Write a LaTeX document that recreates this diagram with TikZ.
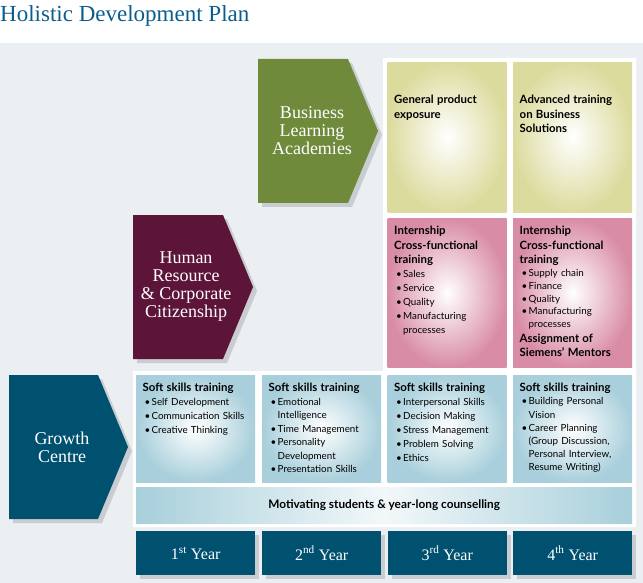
\documentclass[tikz,border=0pt]{standalone}
\usepackage{fontspec}
\setmainfont{Liberation Serif}
\setsansfont{Lato}
\usepackage{tikz}
\usetikzlibrary{positioning, shadows, calc}

\definecolor{titleblue}{HTML}{0B5E8C}
\definecolor{bggray}{HTML}{ECEFF2}
\definecolor{shadowgray}{HTML}{C9CDD1}
\definecolor{olivegreen}{HTML}{6F8A3A}
\definecolor{hrmaroon}{HTML}{5C1538}
\definecolor{petrol}{HTML}{00506F}
\definecolor{cellyellow}{HTML}{DCDB9E}
\definecolor{cellpink}{HTML}{D98CA6}
\definecolor{cellblue}{HTML}{A8CFDB}

% heading and bullet lines inside the cells
\newcommand{\hd}[1]{\par\noindent{\bfseries\fontsize{11.4}{14.5}\selectfont #1\par}}
\newcommand{\bul}[1]{\par\noindent\hangindent=9pt\hangafter=1\makebox[9pt][l]{\hspace{2pt}\textbullet}#1\par}

\tikzset{
  title/.style={anchor=base west, inner sep=0pt, text=titleblue, font=\fontsize{23}{26}\selectfont},
  chevshadow/.style={drop shadow={shadow xshift=4pt, shadow yshift=-4pt, fill=shadowgray, opacity=1}},
  chevtext/.style={text=white, align=center, font=\fontsize{18}{18}\selectfont},
  cell/.style={rectangle, anchor=north west, minimum width=119pt, minimum height=#1, inner sep=0pt},
  ycell/.style={cell=150pt, inner color=white, outer color=cellyellow},
  pcell/.style={cell=149pt, inner color=white, outer color=cellpink},
  bcell/.style={cell=107pt, inner color=white, outer color=cellblue},
  celltext/.style={anchor=north west, inner sep=0pt, text width=114pt, align=left, font=\sffamily\fontsize{9.8}{14}\selectfont},
  bar/.style={rectangle, anchor=north west, minimum width=496pt, minimum height=36pt, inner sep=0pt,
    left color=cellblue, right color=cellblue, middle color=white!85!cellblue, font=\sffamily\bfseries\fontsize{11.8}{13}\selectfont},
  yearbox/.style={rectangle, anchor=north west, minimum width=119pt, minimum height=44pt, inner sep=0pt, fill=petrol, text=white,
    font=\fontsize{16}{18}\selectfont, chevshadow}
}

\begin{document}
\begin{tikzpicture}[x=1pt, y=-1pt]
  \useasboundingbox (0,0) rectangle (643,583);
  \fill[bggray] (0,43) rectangle (643,583);
  \fill[white] (383,58) -- (636,58) -- (636,527) -- (133,527) -- (133,371) -- (383,371) -- cycle;

  \node[title] (title) at (0,22) {Holistic Development Plan};

  % Pfeile links
  \fill[olivegreen, chevshadow] (258,59) -- (348,59) -- (378,131) -- (348,203) -- (258,203) -- cycle;
  \node[chevtext] (bla) at (312,131) {Business\\Learning\\Academies};
  \fill[hrmaroon, chevshadow] (133,215) -- (223,215) -- (253,287) -- (223,359) -- (133,359) -- cycle;
  \node[chevtext] (hrc) at (186,287) {Human\\Resource\\\& Corporate\\Citizenship};
  \fill[petrol, chevshadow] (9,375) -- (98,375) -- (128,447) -- (98,519) -- (9,519) -- cycle;
  \node[chevtext] (gro) at (62,447) {Growth\\Centre};

  % Business Learning Academies
  \node[ycell] (ba3) at (387.5,62) {};
  \node[ycell] (ba4) at (513,62) {};
  \node[celltext] at ([xshift=6.5pt,yshift=-27pt]ba3.north west) {\hd{General product\newline exposure}};
  \node[celltext] at ([xshift=6.5pt,yshift=-27pt]ba4.north west) {\hd{Advanced training\newline on Business\newline Solutions}};

  % Human Resource & Corporate Citizenship
  \node[pcell] (hr3) at (387.5,218) {};
  \node[pcell] (hr4) at (513,218) {};
  \node[celltext] at ([xshift=6.5pt,yshift=-2pt]hr3.north west) {\hd{Internship\newline Cross-functional\newline training}\bul{Sales}\bul{Service}\bul{Quality}\bul{Manufacturing\newline processes}};
  \node[celltext, font=\sffamily\fontsize{9.8}{12.8}\selectfont] at ([xshift=6.5pt,yshift=-2pt]hr4.north west) {\hd{Internship\newline Cross-functional\newline training}\bul{Supply chain}\bul{Finance}\bul{Quality}\bul{Manufacturing\newline processes}\hd{Assignment of\newline Siemens’ Mentors}};

  % Growth Centre
  \node[bcell] (gc1) at (136,375) {};
  \node[bcell] (gc2) at (262,375) {};
  \node[bcell] (gc3) at (387.5,375) {};
  \node[bcell] (gc4) at (513,375) {};
  \node[celltext] at ([xshift=6.5pt,yshift=-2pt]gc1.north west) {\hd{Soft skills training}\bul{Self Development}\bul{Communication Skills}\bul{Creative Thinking}};
  \node[celltext, font=\sffamily\fontsize{9.8}{13.5}\selectfont] at ([xshift=6.5pt,yshift=-2pt]gc2.north west) {\hd{Soft skills training}\bul{Emotional\newline Intelligence}\bul{Time Management}\bul{Personality\newline Development}\bul{Presentation Skills}};
  \node[celltext] at ([xshift=6.5pt,yshift=-2pt]gc3.north west) {\hd{Soft skills training}\bul{Interpersonal Skills}\bul{Decision Making}\bul{Stress Management}\bul{Problem Solving}\bul{Ethics}};
  \node[celltext, font=\sffamily\fontsize{9.8}{13.2}\selectfont] at ([xshift=6.5pt,yshift=-2pt]gc4.north west) {\hd{Soft skills training}\bul{Building Personal\newline Vision}\bul{Career Planning\newline (Group Discussion,\newline Personal Interview,\newline Resume Writing)}};

  \node[bar] (motiv) at (136,487) {Motivating students \& year-long counselling};

  % Jahre
  \node[yearbox] (yr1) at (136,531) {1\textsuperscript{st} Year};
  \node[yearbox] (yr2) at (262,531) {2\textsuperscript{nd} Year};
  \node[yearbox] (yr3) at (387.5,531) {3\textsuperscript{rd} Year};
  \node[yearbox] (yr4) at (513,531) {4\textsuperscript{th} Year};
\end{tikzpicture}
\end{document}
